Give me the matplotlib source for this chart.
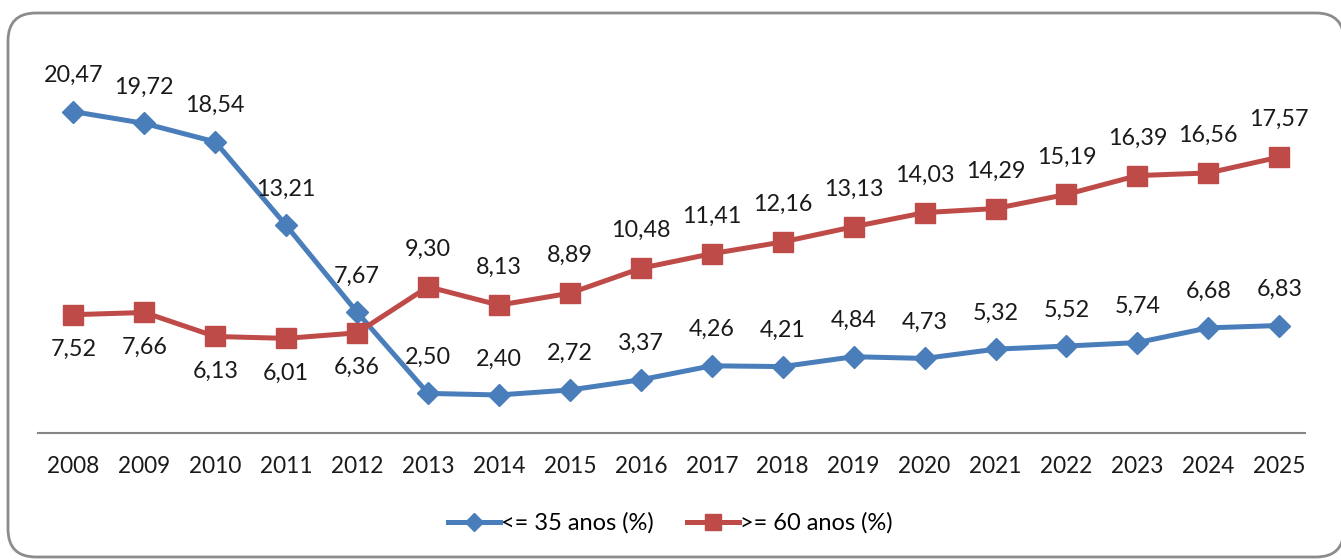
import matplotlib
matplotlib.use("Agg")
import matplotlib.pyplot as plt
from matplotlib.patches import FancyBboxPatch

plt.rcParams['font.family'] = ['Lato', 'DejaVu Sans']

years = [str(y) for y in range(2008, 2026)]
ate_35 = [20.47, 19.72, 18.54, 13.21, 7.67, 2.50, 2.40, 2.72, 3.37, 4.26,
          4.21, 4.84, 4.73, 5.32, 5.52, 5.74, 6.68, 6.83]
mais_60 = [7.52, 7.66, 6.13, 6.01, 6.36, 9.30, 8.13, 8.89, 10.48, 11.41,
           12.16, 13.13, 14.03, 14.29, 15.19, 16.39, 16.56, 17.57]

blue = '#4A7EBB'
red = '#BE4B48'

fig = plt.figure(figsize=(13.41, 5.6), dpi=100)

# rounded frame around the chart (inches)
frame = FancyBboxPatch((0.08, 0.03), 13.36, 5.44, transform=fig.dpi_scale_trans,
                       boxstyle="round,pad=0,rounding_size=0.28",
                       fc='white', ec='#8c8c8c', lw=2, zorder=-5)
fig.patches.append(frame)

ax = fig.add_axes([0.0283, 0.2275, 0.9447, 0.70])
ax.set_zorder(1)

x = list(range(len(years)))
ax.plot(x, ate_35, color=blue, lw=3.6, marker='D', ms=11,
        label='<= 35 anos (%)', zorder=3)
ax.plot(x, mais_60, color=red, lw=3.6, marker='s', ms=14,
        label='>= 60 anos (%)', zorder=3)

def fmt(v):
    return f"{v:.2f}".replace('.', ',')

for i, v in enumerate(ate_35):
    ax.annotate(fmt(v), (i, v), xytext=(0, 26), textcoords='offset points',
                ha='center', va='center', fontsize=16.8, color='#1a1a1a')
for i, v in enumerate(mais_60):
    dy = -25 if i < 5 else 27
    ax.annotate(fmt(v), (i, v), xytext=(0, dy), textcoords='offset points',
                ha='center', va='center', fontsize=16.8, color='#1a1a1a')

ax.set_xlim(-0.5, 17.36)
ax.set_ylim(0, 25)
ax.set_xticks(x)
ax.set_xticklabels(years, fontsize=16.3, color='#1a1a1a')
ax.tick_params(axis='x', length=0, pad=17)
ax.set_yticks([])
for s in ['top', 'right', 'left']:
    ax.spines[s].set_visible(False)
ax.spines['bottom'].set_color('#868686')
ax.spines['bottom'].set_linewidth(1.5)
ax.patch.set_alpha(0)

fig.legend(loc='center', bbox_to_anchor=(0.5, 0.066), ncol=2, frameon=False,
           fontsize=17, handlelength=2.2, handletextpad=0.05, columnspacing=1.4,
           markerscale=0.85)

fig.savefig('out.png', dpi=100)
